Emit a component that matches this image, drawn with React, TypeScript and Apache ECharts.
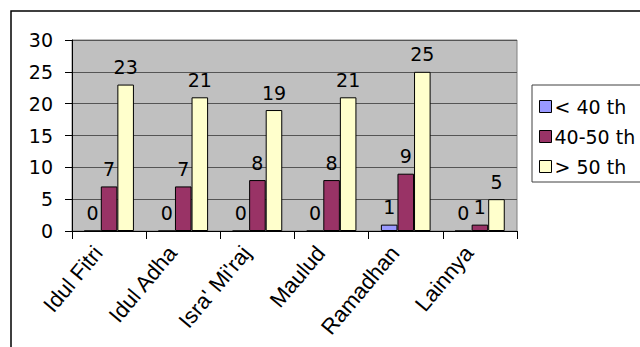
import React, { useEffect, useRef } from "react";
import * as echarts from "echarts";

const categories = ["Idul Fitri", "Idul Adha", "Isra' Mi'raj", "Maulud", "Ramadhan", "Lainnya"];
const seriesNames = ["< 40 th", "40-50 th", "> 50 th"];
const under40 = [0, 0, 0, 0, 1, 0];
const from40to50 = [7, 7, 8, 8, 9, 1];
const over50 = [23, 21, 19, 21, 25, 5];
const seriesColors = ["#9999FF", "#993366", "#FFFFCC"];
const yTicks = [0, 5, 10, 15, 20, 25, 30];

const H_FONT = "DejaVu Sans";
const X_FONT = "Liberation Sans";

export default function App() {
  const ref = useRef<HTMLDivElement>(null);
  useEffect(() => {
    if (!ref.current) return;
    const chart = echarts.init(ref.current, undefined, { renderer: "svg" });
    const data = [under40, from40to50, over50];
    chart.setOption({
      animation: false,
      backgroundColor: "#ffffff",
      graphic: [
        {
          type: "rect",
          shape: { x: 11, y: 11, width: 700, height: 400 },
          style: { fill: "none", stroke: "#000", lineWidth: 1.5 },
          silent: true,
          z: -1,
        },
      ],
      grid: {
        left: 72,
        top: 40,
        width: 445,
        height: 191,
        show: true,
        backgroundColor: "#C0C0C0",
        borderColor: "#808080",
        borderWidth: 1,
      },
      legend: {
        orient: "vertical",
        left: 532,
        top: 85,
        padding: [12, 40, 6, 7],
        itemWidth: 12,
        itemHeight: 12,
        itemGap: 11,
        icon: "rect",
        borderColor: "#404040",
        borderWidth: 1,
        backgroundColor: "#ffffff",
        itemStyle: { borderColor: "#000", borderWidth: 1 },
        textStyle: { fontFamily: H_FONT, fontSize: 19, color: "#000", padding: [0, 0, 0, -2] },
        data: seriesNames,
      },
      xAxis: {
        type: "category",
        data: categories,
        axisLine: { show: true, lineStyle: { color: "#000", width: 1 } },
        axisTick: { show: true, length: 8, lineStyle: { color: "#000" } },
        axisLabel: {
          interval: 0,
          rotate: 50,
          margin: 5,
          padding: [0, 17, 0, 0],
          fontFamily: X_FONT,
          fontSize: 22,
          color: "#000",
        },
        splitLine: { show: false },
      },
      yAxis: {
        type: "value",
        min: yTicks[0],
        max: yTicks[yTicks.length - 1],
        interval: 5,
        axisLine: { show: true, lineStyle: { color: "#000", width: 1 } },
        axisTick: { show: true, length: 7, lineStyle: { color: "#000" } },
        axisLabel: { margin: 19, fontFamily: H_FONT, fontSize: 19, color: "#000" },
        splitLine: { show: true, lineStyle: { color: "#555", width: 1 } },
      },
      series: seriesNames.map((name, i) => ({
        name,
        type: "bar",
        data: data[i],
        barGap: "0%",
        barCategoryGap: "33%",
        itemStyle: { color: seriesColors[i], borderColor: "#000", borderWidth: 1 },
        label: {
          show: true,
          position: "top",
          distance: 8,
          fontFamily: H_FONT,
          fontSize: 19,
          color: "#000",
        },
      })),
    });
    return () => chart.dispose();
  }, []);
  return (
    <div
      ref={ref}
      style={{ position: "absolute", left: 0, top: 0, width: 640, height: 347 }}
    />
  );
}
